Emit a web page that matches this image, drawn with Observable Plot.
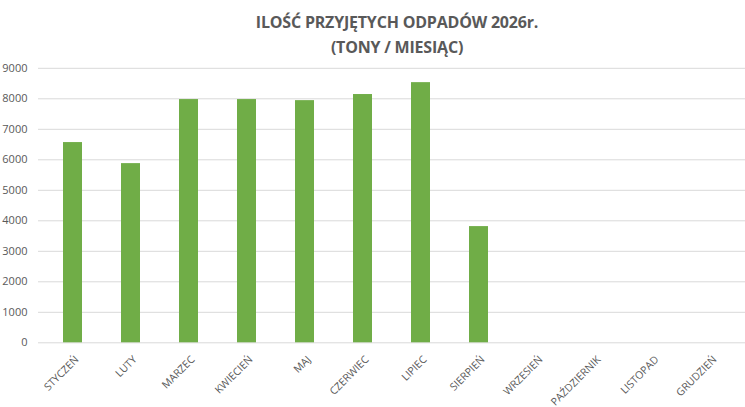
<!DOCTYPE html>
<html><head><meta charset="utf-8">
<script src="https://cdn.jsdelivr.net/npm/d3@7"></script>
<script src="https://cdn.jsdelivr.net/npm/@observablehq/plot@0.6"></script>
<style>
body{margin:0;background:#fff;}
#wrap{position:relative;width:745px;height:407px;overflow:hidden;font-family:"Open Sans",sans-serif;}
#title{position:absolute;top:10px;left:197px;width:400px;text-align:center;color:#595959;font-weight:bold;font-size:16px;line-height:25px;letter-spacing:-0.2px;z-index:2;}
</style></head>
<body><div id="wrap"><div id="title">ILOŚĆ PRZYJĘTYCH ODPADÓW 2026r.<br>(TONY / MIESIĄC)</div></div>
<script>
const months = ["STYCZEŃ","LUTY","MARZEC","KWIECIEŃ","MAJ","CZERWIEC","LIPIEC","SIERPIEŃ","WRZESIEŃ","PAŹDZIERNIK","LISTOPAD","GRUDZIEŃ"];
const tons = [6565, 5875, 7975, 7975, 7940, 8140, 8530, 3810, null, null, null, null];
const yTicks = [0,1000,2000,3000,4000,5000,6000,7000,8000,9000];

const data = months.map((m,i)=>({month:m, value:tons[i]}));

const chart = Plot.plot({
  width:745, height:407,
  marginTop:67.8, marginBottom:64.7, marginLeft:38, marginRight:0,
  style:{fontFamily:"Open Sans, sans-serif", color:"#595959", background:"transparent"},
  x:{domain:months, paddingInner:0.68, paddingOuter:0.34, label:null},
  y:{domain:[0,9000], label:null},
  marks:[
    Plot.gridY(yTicks,{stroke:"#d9d9d9", strokeOpacity:1, strokeWidth:1}),
    Plot.barY(data.filter(d=>d.value!=null),{x:"month", y:"value", fill:"#70AD47"}),
    Plot.axisY(yTicks,{tickSize:0, tickPadding:11, fontSize:11, fill:"#595959", label:null, tickFormat:d3.format("d")}),
    Plot.axisX({tickSize:0, tickRotate:-45, tickPadding:15, fontSize:10.5, fill:"#595959", label:null, dx:4, letterSpacing:"-0.3px"})
  ]
});
document.getElementById("wrap").appendChild(chart);
chart.style.position="absolute";chart.style.left="0";chart.style.top="0";
</script></body></html>
